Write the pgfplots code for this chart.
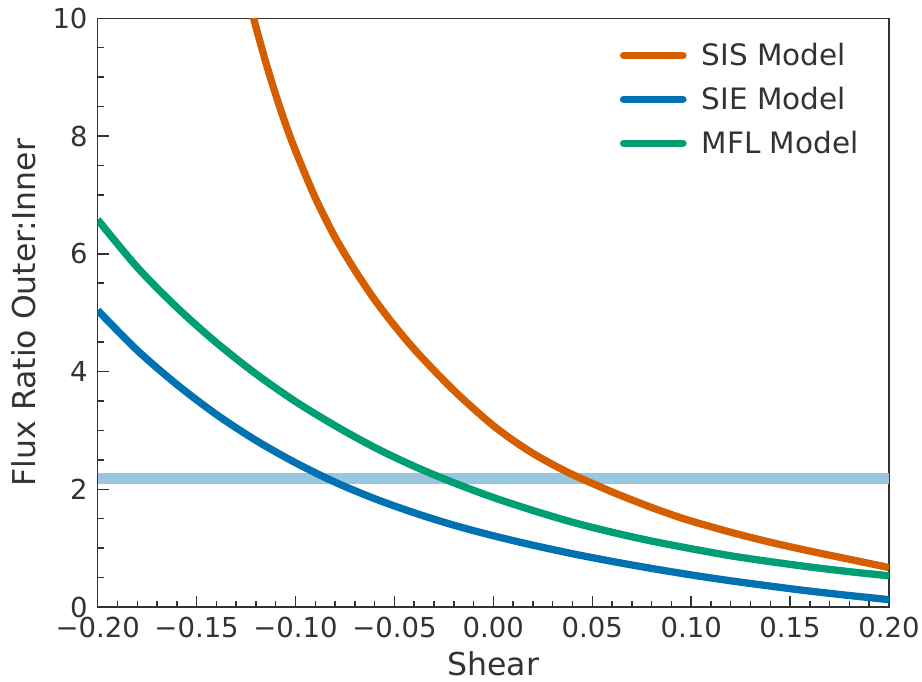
\documentclass[border=0pt]{standalone}
\usepackage{fontspec}
\setmainfont{DejaVu Sans}
\usepackage{pgfplots}
\pgfplotsset{compat=1.18}
\definecolor{sisc}{HTML}{D55E00}
\definecolor{siec}{HTML}{0072B2}
\definecolor{mflc}{HTML}{009E73}
\definecolor{bandc}{HTML}{99C7E0}
\definecolor{txt}{HTML}{333333}
\begin{document}
\begin{tikzpicture}
\path[use as bounding box] (-97.7pt,-75pt) rectangle (824.3pt,607pt);
\begin{axis}[
  scale only axis, width=791.3pt, height=588.7pt,
  xmin=-0.2, xmax=0.2, ymin=0, ymax=10,
  xtick={-0.2,-0.15,-0.1,-0.05,0,0.05,0.1,0.15,0.2},
  xticklabels={−0.20,−0.15,−0.10,−0.05,0.00,0.05,0.10,0.15,0.20},
  ytick={0,2,4,6,8,10}, yticklabels={0,2,4,6,8,10},
  minor x tick num=4, minor y tick num=3,
  tick align=inside, tick pos=left,
  major tick length=11pt, minor tick length=6pt,
  tick style={line width=1.5pt, color=txt},
  axis line style={line width=1.5pt, color=txt},
  every tick label/.append style={font=\fontsize{27.5}{30}\selectfont, text=txt, inner sep=0pt},
  xticklabel style={yshift=-10pt},
  yticklabel style={xshift=-10pt},
  xlabel={Shear}, ylabel={Flux Ratio Outer:Inner},
  every axis x label/.style={at={(axis description cs:0.5,-0.1172)}, anchor=base, font=\fontsize{31.5}{34}\selectfont, text=txt, inner sep=0pt},
  every axis y label/.style={at={(axis description cs:-0.0786,0.5)}, anchor=base, rotate=90, font=\fontsize{31.5}{34}\selectfont, text=txt, inner sep=0pt},
  legend style={draw=none, fill=none, at={(axis description cs:0.6597,0.9575)}, anchor=north west,
    font=\fontsize{29.5}{32}\selectfont, text=txt, row sep=20pt, inner sep=0pt,
    nodes={inner sep=0pt}, /tikz/every odd column/.append style={column sep=15pt}},
  legend cell align=left,
  legend image code/.code={\draw[#1, line cap=round] (0pt,0pt) -- (59.4pt,0pt);},
]
\addplot[bandc, line width=11.5pt, forget plot] coordinates {(-0.2,2.18) (0.2,2.18)};
\addplot[sisc, line width=7.3pt, smooth] table {
x y
-0.1235 10.3
-0.12 9.85
-0.115 9.25
-0.11 8.70
-0.105 8.20
-0.10 7.75
-0.09 6.95
-0.08 6.28
-0.07 5.72
-0.06 5.22
-0.05 4.78
-0.04 4.38
-0.03 4.02
-0.02 3.68
-0.01 3.37
0.00 3.08
0.01 2.83
0.02 2.61
0.03 2.42
0.04 2.25
0.05 2.10
0.06 1.955
0.07 1.82
0.08 1.69
0.09 1.57
0.10 1.46
0.12 1.27
0.14 1.10
0.16 0.95
0.18 0.81
0.20 0.67
};
\addlegendentry{SIS Model}
\addplot[siec, line width=7.3pt, smooth] table {
x y
-0.20 5.04
-0.18 4.36
-0.16 3.78
-0.14 3.27
-0.12 2.83
-0.10 2.45
-0.08 2.12
-0.06 1.84
-0.04 1.60
-0.02 1.39
0.00 1.21
0.02 1.05
0.04 0.905
0.06 0.775
0.08 0.655
0.10 0.545
0.12 0.445
0.14 0.355
0.16 0.27
0.18 0.195
0.20 0.125
};
\addlegendentry{SIE Model}
\addplot[mflc, line width=7.3pt, smooth] table {
x y
-0.20 6.58
-0.18 5.77
-0.16 5.09
-0.14 4.49
-0.12 3.96
-0.10 3.49
-0.08 3.08
-0.06 2.71
-0.04 2.39
-0.02 2.11
0.00 1.86
0.02 1.64
0.04 1.44
0.06 1.27
0.08 1.12
0.10 0.99
0.12 0.87
0.14 0.77
0.16 0.68
0.18 0.60
0.20 0.53
};
\addlegendentry{MFL Model}
\end{axis}
\end{tikzpicture}
\end{document}
